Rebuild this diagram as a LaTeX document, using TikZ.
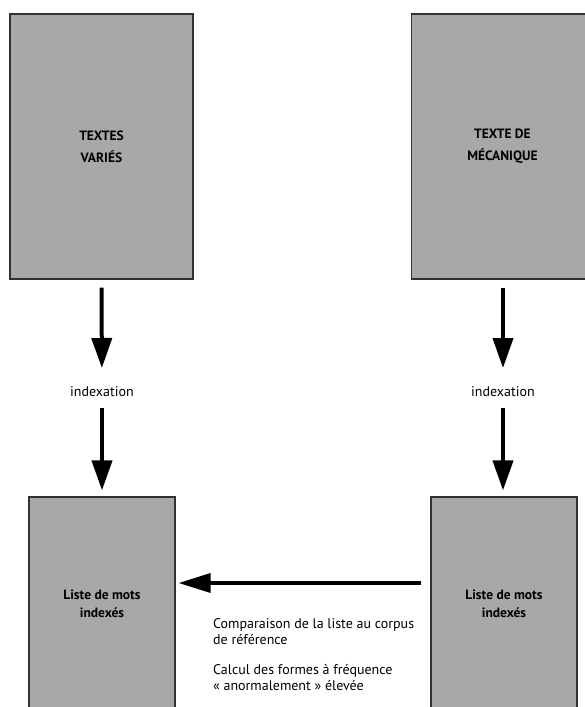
\documentclass[tikz,border=0pt]{standalone}
\usepackage{fontspec}
\setmainfont{PT Sans}
\usetikzlibrary{arrows.meta}
\definecolor{boxfill}{RGB}{168,168,168}
\definecolor{boxline}{RGB}{50,50,50}
\tikzset{
  box/.style={draw=boxline, line width=1.2pt, fill=boxfill, inner sep=0pt, align=center},
  topbox/.style={box, font=\bfseries\fontsize{13.5}{22}\selectfont},
  lowbox/.style={box, font=\bfseries\fontsize{13.5}{18}\selectfont},
  plain/.style={inner sep=0pt, font=\fontsize{14}{16.5}\selectfont},
  bigarrow/.style={line width=4pt, -{Triangle[width=20pt,length=30pt]}},
  harrow/.style={line width=3.5pt, -{Triangle[width=19pt,length=32pt]}}
}
\begin{document}
\begin{tikzpicture}[x=1pt,y=-1pt]
\useasboundingbox (0,0) rectangle (585,707);
\clip (0,0) rectangle (585,707);
\fill[white] (0,0) rectangle (585,707);
% boxes
\node[topbox, minimum width=183pt, minimum height=265pt] (tv) at (101.5,146.5) {TEXTES\\VARIÉS};
\node[topbox, minimum width=182pt, minimum height=265pt] (tm) at (502.5,146.5) {TEXTE DE\\MÉCANIQUE};
\node[lowbox, minimum width=146pt, minimum height=214pt] (lb) at (102,604) {Liste de mots\\indexés};
\node[lowbox, minimum width=146pt, minimum height=214pt] (rb) at (504,604) {Liste de mots\\indexés};
% labels
\node[plain] (ix1) at (102,392) {indexation};
\node[plain] (ix2) at (503,392) {indexation};
\node[plain, anchor=north west, align=left] (c1) at (213,618) {Comparaison de la liste au corpus\\de référence};
\node[plain, anchor=north west, align=left] (c2) at (213,664) {Calcul des formes à fréquence\\« anormalement » élevée};
% arrows
\draw[bigarrow, shorten <=8pt, shorten >=24pt] (tv.south) -- (ix1.center);
\draw[bigarrow, shorten <=16pt, shorten >=6pt] (ix1.center) -- (lb.north);
\draw[bigarrow, shorten <=8pt, shorten >=24pt] (tm.south -| ix2.center) -- (ix2.center);
\draw[bigarrow, shorten <=16pt, shorten >=6pt] (ix2.center) -- (rb.north -| ix2.center);
\draw[harrow, shorten <=9pt, shorten >=3pt] ([yshift=21pt]rb.west) -- ([yshift=21pt]lb.east);
\end{tikzpicture}
\end{document}
